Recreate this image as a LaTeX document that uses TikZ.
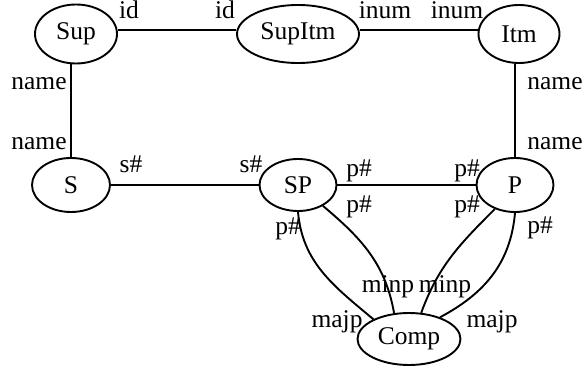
\documentclass[tikz,border=0pt]{standalone}
\usepackage{fontspec}
\setmainfont{Liberation Serif}
\usetikzlibrary{shapes.geometric}

\tikzset{
  ent/.style={ellipse, draw, line width=1.9pt, inner sep=0pt},
  lbl/.style={anchor=base, inner sep=0pt},
  rel/.style={line width=1.9pt}
}

\begin{document}
\begin{tikzpicture}[x=1pt, y=-1pt, font=\fontsize{25.5}{28}\selectfont]
 \useasboundingbox (0,0) rectangle (584,371);

 % entities
 \node[ent, minimum width=82pt, minimum height=59pt] (Sup) at (76,34) {Sup};
 \node[ent, minimum width=122pt, minimum height=58pt] (SupItm) at (298,34) {SupItm};
 \node[ent, minimum width=81pt, minimum height=58pt] (Itm) at (519,34) {Itm};
 \node[ent, minimum width=78pt, minimum height=54pt] (S) at (71,185) {S};
 \node[ent, minimum width=77pt, minimum height=52pt] (SP) at (298,185) {SP};
 \node[ent, minimum width=77pt, minimum height=54pt] (P) at (515,185) {P};
 \node[ent, minimum width=103pt, minimum height=52pt] (Comp) at (409,339) {Comp};

 % links
 \draw[rel] ([yshift=4pt]Sup.east) -- ([yshift=4pt]SupItm.west);
 \draw[rel] ([yshift=4pt]SupItm.east) -- ([yshift=4pt]Itm.west);
 \draw[rel] (S.north) -- (S.north |- Sup.south);
 \draw[rel] (P.north) -- (P.north |- Itm.south);
 \draw[rel] (S) -- (SP);
 \draw[rel] (SP) -- (P);
 \draw[rel] (SP.south) to[out=-85, in=140] (Comp.151);
 \draw[rel] (SP.-40) to[out=-40, in=100] (Comp.120);
 \draw[rel] (P.-130) to[out=-135, in=70] (Comp.65);
 \draw[rel] (P.south) to[out=-95, in=28] (Comp.35);

 % role labels
 \node[lbl] (idA) at (129,18.5) {id};
 \node[lbl] (idB) at (225,18.5) {id};
 \node[lbl] (inumA) at (385,18.5) {inum};
 \node[lbl] (inumB) at (457,18.5) {inum};
 \node[lbl] (nameA) at (39,90) {name};
 \node[lbl] (nameB) at (39,150) {name};
 \node[lbl] (nameC) at (555,90) {name};
 \node[lbl] (nameD) at (555,150) {name};
 \node[lbl] (snumA) at (131,173) {s\#};
 \node[lbl] (snumB) at (251,173) {s\#};
 \node[lbl] (pnumA) at (359,177) {p\#};
 \node[lbl] (pnumB) at (467,177) {p\#};
 \node[lbl] (pnumC) at (359,213) {p\#};
 \node[lbl] (pnumD) at (467,213) {p\#};
 \node[lbl] (pnumE) at (288,235) {p\#};
 \node[lbl] (pnumF) at (540,234) {p\#};
 \node[lbl] (minpA) at (388,293) {minp};
 \node[lbl] (minpB) at (445,293) {minp};
 \node[lbl] (majpA) at (337,328) {majp};
 \node[lbl] (majpB) at (492,328) {majp};
\end{tikzpicture}
\end{document}
